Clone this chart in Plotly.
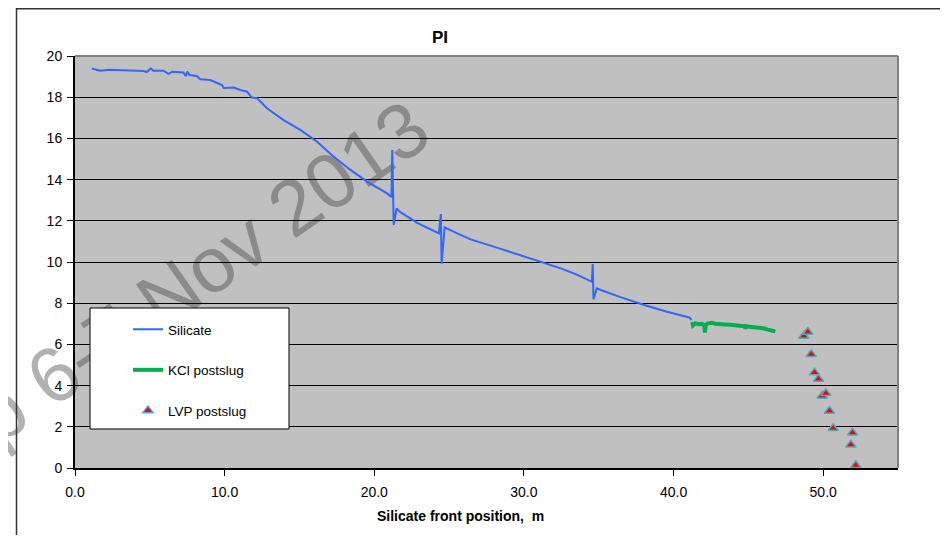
import plotly.graph_objects as go

# ---------------- data ----------------
silicate_x = [1.12, 1.67, 2.34, 3.5, 4.57, 4.8, 5.07, 5.24, 5.91, 6.25, 6.5, 7.25, 7.4, 7.5, 7.65,
              8.14, 8.37, 9.04, 9.5, 9.82, 9.93, 10.6, 11.04, 11.5, 11.82, 12.17, 12.83, 13.94,
              15.06, 16.18, 17.29, 18.41, 19.52, 20.86, 21.15, 21.2, 21.3, 21.49, 21.75, 22.87,
              24.32, 24.45, 24.5, 24.7, 25.54, 26.44, 28.4, 30.05, 31.5, 32.46, 33.5, 34.54,
              34.6, 34.65, 34.87, 35.14, 36.5, 38.04, 39.5, 41.05, 41.2]
silicate_y = [19.39, 19.29, 19.33, 19.30, 19.27, 19.22, 19.40, 19.29, 19.29, 19.13, 19.24, 19.20,
              19.02, 19.24, 19.08, 19.03, 18.87, 18.83, 18.70, 18.59, 18.45, 18.47, 18.35, 18.27,
              17.98, 17.95, 17.46, 16.89, 16.41, 15.84, 15.11, 14.47, 13.90, 13.33, 13.15, 15.44,
              11.80, 12.60, 12.42, 11.90, 11.39, 12.33, 9.92, 11.68, 11.39, 11.10, 10.65, 10.26,
              9.95, 9.69, 9.40, 9.04, 9.90, 8.19, 8.72, 8.64, 8.28, 7.91, 7.60, 7.31, 7.20]

kcl_x = [41.25, 41.3, 41.45, 41.7, 41.9, 42.05, 42.1, 42.15, 42.3, 42.55, 42.8, 43.1, 43.4, 43.8,
         44.2, 44.55, 44.75, 44.8, 44.85, 45.2, 45.67, 46.0, 46.3, 46.6, 46.8]
kcl_y = [7.08, 6.92, 7.02, 6.98, 7.00, 6.93, 6.58, 6.95, 7.02, 7.05, 7.00, 7.00, 6.97, 6.95,
         6.93, 6.90, 6.88, 6.76, 6.88, 6.85, 6.82, 6.78, 6.72, 6.68, 6.63]

lvp_x = [48.7, 48.97, 49.2, 49.42, 49.69, 49.93, 50.18, 50.42, 50.67, 51.85, 51.96, 52.18]
lvp_y = [6.41, 6.60, 5.52, 4.63, 4.32, 3.50, 3.63, 2.77, 1.93, 1.13, 1.71, 0.13]

x_ticks = [0, 10, 20, 30, 40, 50]
y_ticks = [0, 2, 4, 6, 8, 10, 12, 14, 16, 18, 20]

FONT = "Liberation Sans, Arial, sans-serif"

# page offset of the figure (browser body margin) and plot-area geometry in page pixels
OFF = 8
PL, PR, PT, PB = 75, 898, 56, 468
FIG_W, FIG_H = 948 - 2 * OFF, 543 - 2 * OFF
PW, PH = PR - PL, PB - PT


def px(xp):
    return (xp - PL) / PW


def py(yp):
    return (PB - yp) / PH


fig = go.Figure()
fig.add_trace(go.Scatter(x=silicate_x, y=silicate_y, mode="lines", name="Silicate",
                         line=dict(color="#3366FF", width=2), legendgroup="a"))
fig.add_trace(go.Scatter(x=kcl_x, y=kcl_y, mode="lines", name="KCl postslug",
                         line=dict(color="#00B050", width=4), legendgroup="b"))
fig.add_trace(go.Scatter(x=lvp_x, y=lvp_y, mode="markers", name="LVP postslug",
                         marker=dict(symbol="triangle-up", size=9, color="#FF0000",
                                     line=dict(color="#4BACC6", width=1.5)),
                         legendgroup="c"))

wm_x, wm_y = px(71.5), py(353.8)

fig.update_layout(
    width=FIG_W, height=FIG_H,
    margin=dict(l=PL - OFF, r=FIG_W - (PR - OFF), t=PT - OFF, b=FIG_H - (PB - OFF)),
    paper_bgcolor="white", plot_bgcolor="#C0C0C0",
    font=dict(family=FONT, size=14, color="black"),
    title=dict(text="<b>PI</b>", x=px(440), xref="paper", xanchor="center",
               y=1 - (37 - OFF) / FIG_H, yanchor="middle", font=dict(size=17, family=FONT)),
    showlegend=True,
    legend=dict(x=px(128), xanchor="left", y=py(314), yanchor="top",
                bgcolor="rgba(0,0,0,0)", borderwidth=0, font=dict(size=13.5, family=FONT),
                tracegroupgap=20),
    xaxis=dict(range=[0, 55], tickvals=x_ticks, tickformat=".1f", showgrid=False,
               zeroline=False, showline=True, linecolor="black", linewidth=2,
               ticks="outside", ticklen=6, tickcolor="black", tickwidth=1,
               ticklabelstandoff=4, tickfont=dict(size=14)),
    yaxis=dict(range=[0, 20], tickvals=y_ticks, showgrid=True, gridcolor="black", gridwidth=1,
               zeroline=False, showline=True, linecolor="black", linewidth=2,
               ticks="outside", ticklen=6, tickcolor="black", tickwidth=1,
               ticklabelstandoff=2, tickfont=dict(size=14)),
    shapes=[
        # outer chart frame
        dict(type="rect", xref="paper", yref="paper", x0=px(16.5), x1=1.3,
             y0=-0.5, y1=py(8.8), line=dict(color="#333333", width=1.5),
             fillcolor="rgba(0,0,0,0)", layer="below"),
        # watermark (drawn beneath gridlines, data and legend box)
        dict(type="rect", xref="paper", yref="paper", x0=wm_x - 0.0005, x1=wm_x + 0.0005,
             y0=wm_y - 0.0005, y1=wm_y + 0.0005, line=dict(width=0),
             fillcolor="rgba(0,0,0,0)", layer="below",
             label=dict(text="Workshop 6-7 Nov 2013", textangle=-35,
                        textposition="middle center",
                        font=dict(size=78, family=FONT, color="rgba(60,60,60,0.40)"))),
        # plot area top/right border
        dict(type="line", xref="paper", yref="paper", x0=0, x1=1, y0=1, y1=1,
             line=dict(color="#808080", width=2), layer="above"),
        dict(type="line", xref="paper", yref="paper", x0=1, x1=1, y0=0, y1=1,
             line=dict(color="#808080", width=2), layer="above"),
        # legend frame
        dict(type="rect", xref="paper", yref="paper", x0=px(90), x1=px(289),
             y0=py(429), y1=py(308), line=dict(color="black", width=1),
             fillcolor="white", layer="above"),
    ],
    annotations=[
        dict(text="<b>Silicate front position,  m</b>", xref="paper", yref="paper",
             x=px(460), y=py(516), xanchor="center", yanchor="middle",
             showarrow=False, font=dict(size=14, family=FONT)),
    ],
)

fig.write_html("out.html")
